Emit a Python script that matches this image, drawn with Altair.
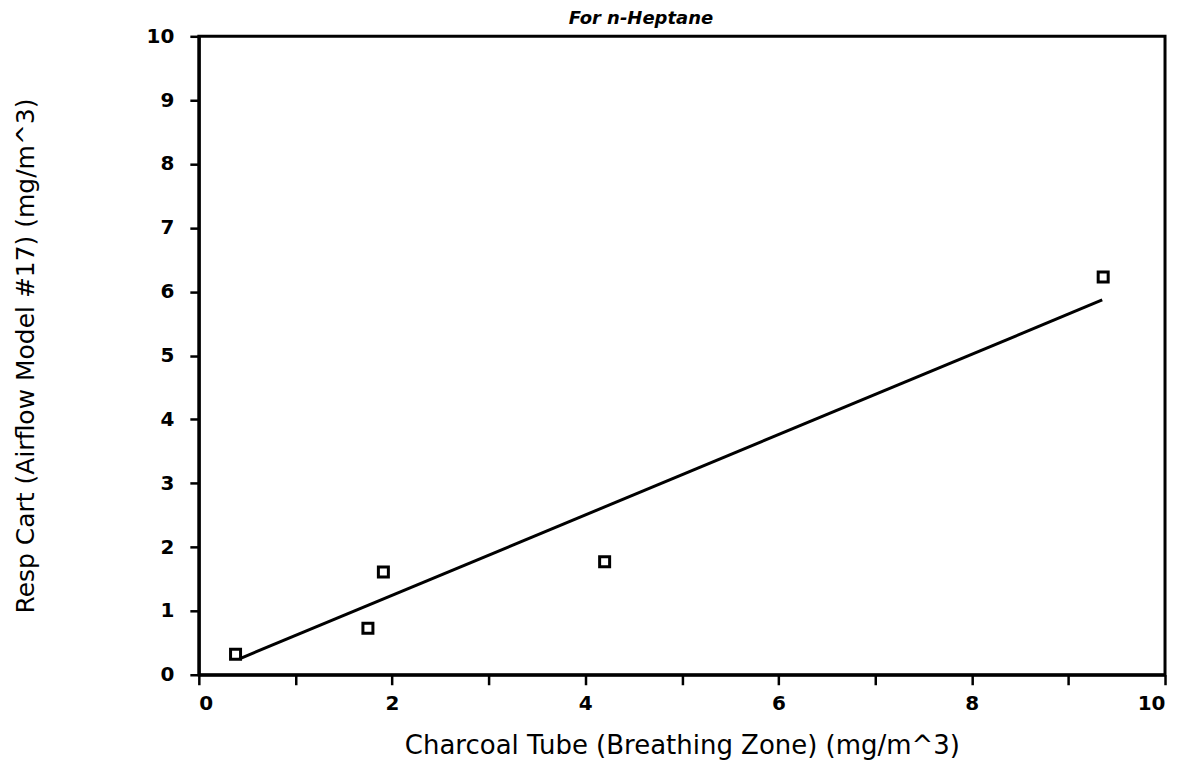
import altair as alt
import pandas as pd

# Data
charcoal_tube = [0.38, 1.75, 1.91, 4.20, 9.36]
resp_cart = [0.32, 0.73, 1.61, 1.77, 6.23]
fit_x = [0.42, 9.35]
fit_y = [0.25, 5.87]
x_ticks = [0, 1, 2, 3, 4, 5, 6, 7, 8, 9, 10]
y_ticks = [0, 1, 2, 3, 4, 5, 6, 7, 8, 9, 10]

pts = pd.DataFrame({"x": charcoal_tube, "y": resp_cart})
fit = pd.DataFrame({"x": fit_x, "y": fit_y})

FONT = "DejaVu Sans"

xscale = alt.Scale(domain=[0, 10], nice=False, zero=True)
yscale = alt.Scale(domain=[0, 10], nice=False, zero=True)

xaxis = alt.Axis(
    title="Charcoal Tube (Breathing Zone) (mg/m^3)",
    values=x_ticks,
    format="d",
    labelExpr="datum.value % 2 == 0 ? datum.label : ''",
    grid=False,
    domainColor="black", domainWidth=3,
    tickColor="black", tickWidth=2.5, tickSize=10,
    labelFont=FONT, labelFontSize=20, labelFontWeight="bold", labelColor="black",
    labelPadding=9,
    titleFont=FONT, titleFontSize=26, titleFontWeight="normal", titleColor="black",
    titleY=71, titleBaseline="middle",
)
yaxis = alt.Axis(
    title="Resp Cart (Airflow Model #17) (mg/m^3)",
    values=y_ticks,
    format="d",
    grid=False,
    domainColor="black", domainWidth=3,
    tickColor="black", tickWidth=2.5, tickSize=9,
    labelFont=FONT, labelFontSize=20, labelFontWeight="bold", labelColor="black",
    labelPadding=16,
    titleFont=FONT, titleFontSize=25, titleFontWeight="normal", titleColor="black",
    titleX=-173, titleBaseline="middle", titleAngle=-90,
)

points = alt.Chart(pts).mark_point(
    shape="square", filled=False, color="black", strokeWidth=3, size=100, opacity=1
).encode(
    x=alt.X("x:Q", scale=xscale, axis=xaxis),
    y=alt.Y("y:Q", scale=yscale, axis=yaxis),
)

line = alt.Chart(fit).mark_line(color="black", strokeWidth=3).encode(
    x=alt.X("x:Q", scale=xscale),
    y=alt.Y("y:Q", scale=yscale),
)

chart = alt.layer(line, points).properties(
    width=967,
    height=639,
    background="white",
    title=alt.TitleParams(
        text="For n-Heptane",
        font=FONT, fontSize=18, fontStyle="italic", fontWeight="bold",
        color="black", anchor="middle", frame="group", dx=-41, offset=-2,
    ),
    autosize=alt.AutoSizeParams(type="none"),
    padding={"left": 191, "top": 28, "right": 20, "bottom": 87},
).configure_view(stroke="black", strokeWidth=3)

chart.save("out.html", embed_options={"renderer": "svg", "actions": False})
